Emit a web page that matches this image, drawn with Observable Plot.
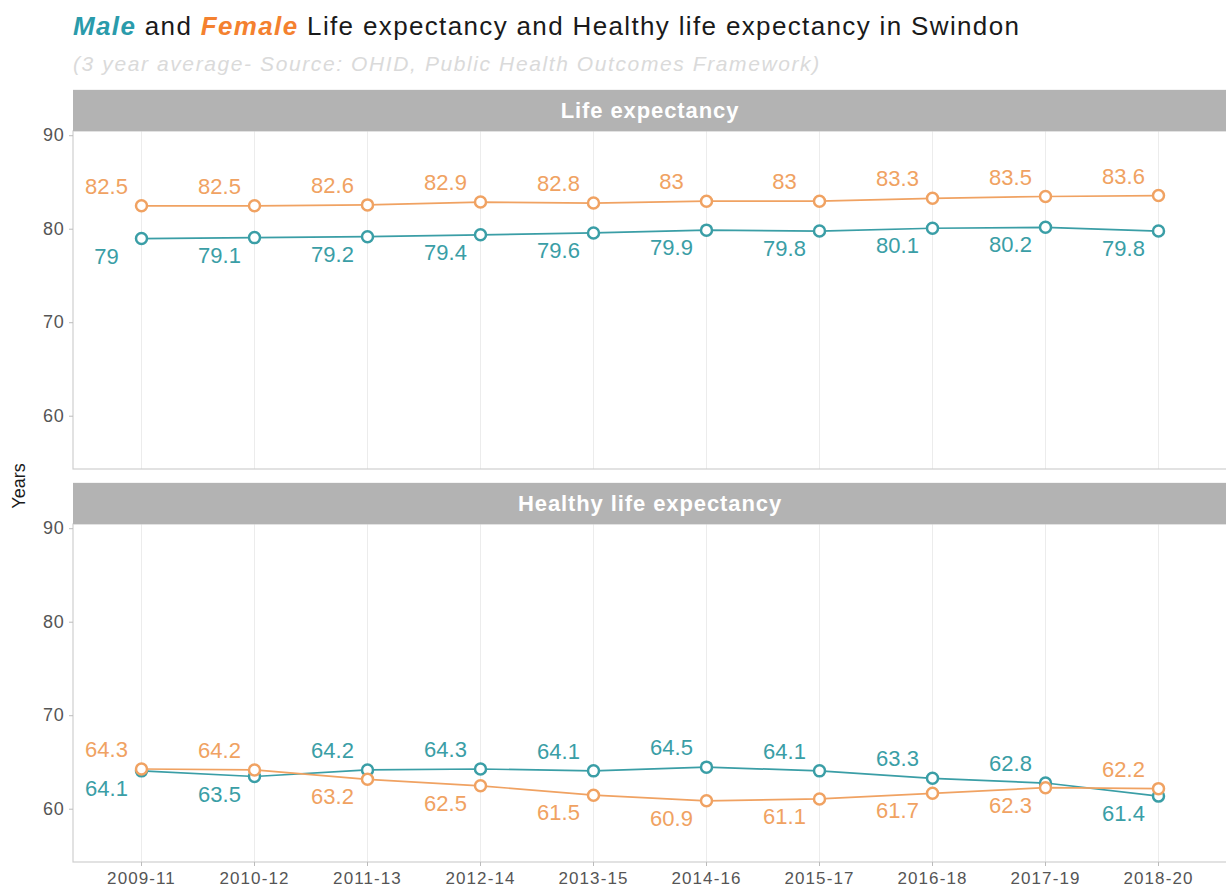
<!DOCTYPE html>
<html>
<head>
<meta charset="utf-8">
<script src="https://cdn.jsdelivr.net/npm/d3@7"></script>
<script src="https://cdn.jsdelivr.net/npm/@observablehq/plot@0.6"></script>
<style>
  html, body { margin: 0; padding: 0; background: #fff; }
  body { width: 1226px; height: 890px; position: relative; overflow: hidden; font-family: "Liberation Sans", Arial, sans-serif; }
  #title { position: absolute; left: 73px; top: 11px; font-size: 26px; letter-spacing: 1.35px; color: #1a1a1a; white-space: nowrap; z-index: 2; }
  #title .m { color: #2a9bab; font-weight: bold; font-style: italic; }
  #title .f { color: #f4812f; font-weight: bold; font-style: italic; }
  #subtitle { position: absolute; left: 73px; top: 52px; font-size: 21px; letter-spacing: 1.6px; color: #dadada; font-style: italic; white-space: nowrap; z-index: 2; }
  #ylab { position: absolute; left: 19px; top: 486px; transform: translate(-50%, -50%) rotate(-90deg); font-size: 18px; color: #1a1a1a; z-index: 2; }
  #chart { position: absolute; left: 0; top: 80px; z-index: 1; }
</style>
</head>
<body>
<div id="title"><span class="m">Male</span> and <span class="f">Female</span> Life expectancy and Healthy life expectancy in Swindon</div>
<div id="subtitle">(3 year average- Source: OHID, Public Health Outcomes Framework)</div>
<div id="chart"></div>
<div id="ylab">Years</div>
<script>
const periods = ["2009-11","2010-12","2011-13","2012-14","2013-15","2014-16","2015-17","2016-18","2017-19","2018-20"];
const panels = ["Life expectancy", "Healthy life expectancy"];
const sexes = ["Male", "Female"];
const maleLE   = [79, 79.1, 79.2, 79.4, 79.6, 79.9, 79.8, 80.1, 80.2, 79.8];
const femaleLE = [82.5, 82.5, 82.6, 82.9, 82.8, 83, 83, 83.3, 83.5, 83.6];
const maleHLE   = [64.1, 63.5, 64.2, 64.3, 64.1, 64.5, 64.1, 63.3, 62.8, 61.4];
const femaleHLE = [64.3, 64.2, 63.2, 62.5, 61.5, 60.9, 61.1, 61.7, 62.3, 62.2];
const yTicks = [60, 70, 80, 90];
const colors = ["#3a9ea6", "#f0a262"];

const series = [
  {panel: panels[0], sex: "Male", values: maleLE, other: femaleLE},
  {panel: panels[0], sex: "Female", values: femaleLE, other: maleLE},
  {panel: panels[1], sex: "Male", values: maleHLE, other: femaleHLE},
  {panel: panels[1], sex: "Female", values: femaleHLE, other: maleHLE}
];
const data = series.flatMap(s => periods.map((p, i) => ({
  panel: s.panel, sex: s.sex, period: p, value: s.values[i],
  above: s.values[i] >= s.other[i]
})));

const yMin = 54.3, yMax = 90.45, stripTop = 94.85;

const plot = Plot.plot({
  width: 1226,
  height: 810,
  marginLeft: 73,
  marginRight: 0,
  marginTop: 50,
  marginBottom: 28,
  style: {fontFamily: "Liberation Sans, Arial, sans-serif", fontSize: "18px", color: "#555", background: "white"},
  x: {type: "point", domain: periods, padding: 0.6, label: null},
  y: {domain: [yMin, yMax], label: null},
  fy: {domain: panels, axis: null, paddingInner: 0.14, paddingOuter: 0, label: null},
  color: {domain: sexes, range: colors},
  marks: [
    Plot.ruleX(periods, {x: d => d, stroke: "#ececec", strokeWidth: 1}),
    Plot.rect(panels, {fy: d => d, y1: yMin, y2: yMax, fill: "none", stroke: "#cfcfcf", strokeWidth: 1.2, insetRight: -6}),
    Plot.rect(panels, {fy: d => d, y1: yMax, y2: stripTop, fill: "#b3b3b3", insetRight: -6}),
    Plot.text(panels, {fy: d => d, y: (yMax + stripTop) / 2, text: d => d, fill: "white", fontWeight: "bold", fontSize: 22}),
    Plot.axisY({ticks: yTicks, tickSize: 4, tickPadding: 5, fontSize: 18, color: "#555", stroke: "#bbb"}),
    Plot.axisX({tickSize: 4, tickPadding: 5, fontSize: 17, color: "#555", stroke: "#bbb"}),
    Plot.line(data, {x: "period", y: "value", z: "sex", stroke: "sex", fy: "panel", strokeWidth: 1.7}),
    Plot.dot(data, {x: "period", y: "value", stroke: "sex", fy: "panel", r: 5.5, fill: "white", strokeWidth: 2.5}),
    Plot.text(data.filter(d => d.above), {x: "period", y: "value", fy: "panel", text: d => String(d.value), fill: "sex", dx: -35, dy: -19, fontSize: 22}),
    Plot.text(data.filter(d => !d.above), {x: "period", y: "value", fy: "panel", text: d => String(d.value), fill: "sex", dx: -35, dy: 18, fontSize: 22})
  ]
});
document.getElementById("chart").appendChild(plot);
d3.select(plot).selectAll("g[aria-label='text'] text").filter(function() { return this.getAttribute("fill") === "white" || this.parentNode.getAttribute("fill") === "white"; }).style("letter-spacing", "0.9px");
d3.select(plot).selectAll("g[aria-label='x-axis tick label'] text").style("letter-spacing", "1.1px");
d3.select(plot).selectAll("g[aria-label='y-axis tick label'] text").style("letter-spacing", "0.8px");
</script>
</body>
</html>
